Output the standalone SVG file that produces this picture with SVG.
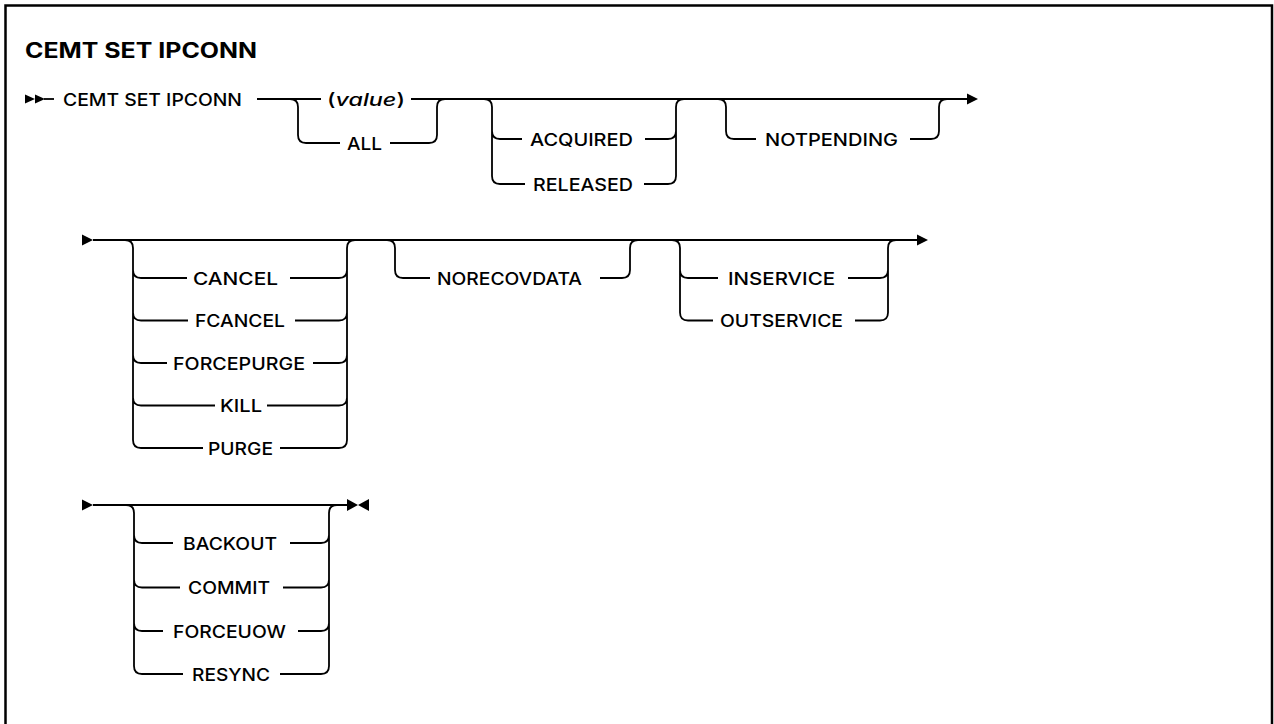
<svg xmlns="http://www.w3.org/2000/svg" width="1274" height="724" viewBox="0 0 1274 724">
<style>
.frame{fill:none;stroke:#000;stroke-width:2.5}
.ln{fill:none;stroke:#000;stroke-width:1.8;stroke-linecap:butt}
.ah{fill:#000;stroke:none}
.t{font-family:Inter,"Liberation Sans",Arial,sans-serif;font-size:17.5px;font-weight:500;fill:#000}
.title{font-family:Inter,"Liberation Sans",Arial,sans-serif;font-size:21px;font-weight:700;fill:#000}
</style>
<rect width="1274" height="724" fill="#fff"/>
<rect class="frame" x="5.5" y="5.5" width="1266.5" height="730"/>
<g id="title"><text class="title" x="25" y="58" textLength="232" lengthAdjust="spacingAndGlyphs">CEMT SET IPCONN</text></g>

<g id="connectors">
  <!-- row 1 -->
  <polygon class="ah" points="25,94.5 35,99 25,103.5"/>
  <polygon class="ah" points="35,94.5 45,99 35,103.5"/>
  <path class="ln" d="M44 99 H54"/>
  <path class="ln" d="M257 99 H321 M411 99 H968"/>
  <polygon class="ah" points="967,93.5 978,99 967,104.5"/>
  <!-- group value/ALL -->
  <path class="ln" d="M290 99 Q298 99 298 107 V135 Q298 143 306 143 H340"/>
  <path class="ln" d="M390 143 H429 Q437 143 437 135 V107 Q437 99 445 99"/>
  <!-- group ACQUIRED/RELEASED -->
  <path class="ln" d="M484 99 Q492 99 492 107 V176 Q492 184 500 184 H525 M492 131 Q492 139 500 139 H522"/>
  <path class="ln" d="M645 139 H668 Q676 139 676 131 M644 184 H668 Q676 184 676 176 V107 Q676 99 684 99"/>
  <!-- NOTPENDING -->
  <path class="ln" d="M718 99 Q726 99 726 107 V131 Q726 139 734 139 H756"/>
  <path class="ln" d="M910 139 H931 Q939 139 939 131 V107 Q939 99 947 99"/>

  <!-- row 2 -->
  <polygon class="ah" points="82,234.5 93,240 82,245.5"/>
  <path class="ln" d="M93 240 H917"/>
  <polygon class="ah" points="917,234.5 928,240 917,245.5"/>
  <path class="ln" d="M125 240 Q133 240 133 248 V440 Q133 448 141 448 H203
    M133 270 Q133 278 141 278 H187
    M133 312.5 Q133 320.5 141 320.5 H188
    M133 355 Q133 363 141 363 H167
    M133 397.5 Q133 405.5 141 405.5 H215"/>
  <path class="ln" d="M290 278 H339 Q347 278 347 270
    M295 320.5 H339 Q347 320.5 347 312.5
    M313 363 H339 Q347 363 347 355
    M267 405.5 H339 Q347 405.5 347 397.5
    M280 448 H339 Q347 448 347 440 V248 Q347 240 355 240"/>
  <path class="ln" d="M387 240 Q395 240 395 248 V270 Q395 278 403 278 H430"/>
  <path class="ln" d="M600 278 H622 Q630 278 630 270 V248 Q630 240 638 240"/>
  <path class="ln" d="M672 240 Q680 240 680 248 V312.5 Q680 320.5 688 320.5 H713 M680 270 Q680 278 688 278 H718"/>
  <path class="ln" d="M848 278 H880 Q888 278 888 270 M855 320.5 H880 Q888 320.5 888 312.5 V248 Q888 240 896 240"/>

  <!-- row 3 -->
  <polygon class="ah" points="82,499.5 93,505 82,510.5"/>
  <path class="ln" d="M93 505 H347"/>
  <polygon class="ah" points="347,499 358,505 347,511"/>
  <polygon class="ah" points="369,499 358,505 369,511"/>
  <path class="ln" d="M126 505 Q134 505 134 513 V666 Q134 674 142 674 H183
    M134 535 Q134 543 142 543 H173
    M134 579.5 Q134 587.5 142 587.5 H180
    M134 623 Q134 631 142 631 H163"/>
  <path class="ln" d="M290 543 H321 Q329 543 329 535
    M283 587.5 H321 Q329 587.5 329 579.5
    M298 631 H321 Q329 631 329 623
    M280 674 H321 Q329 674 329 666 V513 Q329 505 337 505"/>
</g>

<g id="n-cmd"><text class="t" x="63" y="105.5" textLength="179" lengthAdjust="spacingAndGlyphs">CEMT SET IPCONN</text></g>
<g id="n-value"><text class="t" x="327" y="105.5" textLength="78" lengthAdjust="spacingAndGlyphs">(<tspan font-style="italic">value</tspan>)</text></g>
<g id="n-all"><text class="t" x="347" y="149.5" textLength="35" lengthAdjust="spacingAndGlyphs">ALL</text></g>
<g id="n-acquired"><text class="t" x="530" y="145.5" textLength="103" lengthAdjust="spacingAndGlyphs">ACQUIRED</text></g>
<g id="n-released"><text class="t" x="533" y="190.5" textLength="100" lengthAdjust="spacingAndGlyphs">RELEASED</text></g>
<g id="n-notpending"><text class="t" x="765" y="145.5" textLength="133" lengthAdjust="spacingAndGlyphs">NOTPENDING</text></g>

<g id="n-cancel"><text class="t" x="193" y="284.5" textLength="85" lengthAdjust="spacingAndGlyphs">CANCEL</text></g>
<g id="n-fcancel"><text class="t" x="195" y="327" textLength="90" lengthAdjust="spacingAndGlyphs">FCANCEL</text></g>
<g id="n-forcepurge"><text class="t" x="173" y="369.5" textLength="132" lengthAdjust="spacingAndGlyphs">FORCEPURGE</text></g>
<g id="n-kill"><text class="t" x="220" y="412" textLength="42" lengthAdjust="spacingAndGlyphs">KILL</text></g>
<g id="n-purge"><text class="t" x="208" y="454.5" textLength="65" lengthAdjust="spacingAndGlyphs">PURGE</text></g>
<g id="n-norecovdata"><text class="t" x="437" y="284.5" textLength="145" lengthAdjust="spacingAndGlyphs">NORECOVDATA</text></g>
<g id="n-inservice"><text class="t" x="728" y="284.5" textLength="107" lengthAdjust="spacingAndGlyphs">INSERVICE</text></g>
<g id="n-outservice"><text class="t" x="720" y="327" textLength="123" lengthAdjust="spacingAndGlyphs">OUTSERVICE</text></g>

<g id="n-backout"><text class="t" x="183" y="549.5" textLength="94" lengthAdjust="spacingAndGlyphs">BACKOUT</text></g>
<g id="n-commit"><text class="t" x="188" y="594" textLength="82" lengthAdjust="spacingAndGlyphs">COMMIT</text></g>
<g id="n-forceuow"><text class="t" x="173" y="637.5" textLength="113" lengthAdjust="spacingAndGlyphs">FORCEUOW</text></g>
<g id="n-resync"><text class="t" x="192" y="680.5" textLength="78" lengthAdjust="spacingAndGlyphs">RESYNC</text></g>
</svg>
